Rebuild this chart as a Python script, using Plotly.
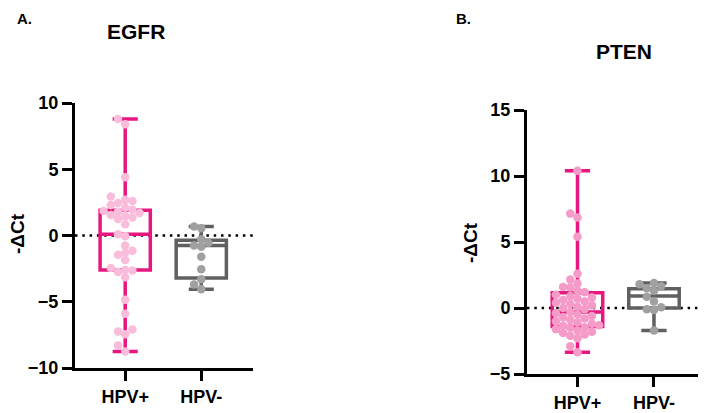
import numpy as np
import plotly.graph_objects as go

# ---------------- data ----------------
categories = ["HPV+", "HPV-"]

egfr_hpv_pos = [8.8, 8.4, 4.4, 2.95, 2.7, 2.6, 2.45, 2.3, 2.1, 1.95, 1.85, 1.8, 1.7, 1.55,
                1.45, 1.35, 1.25, 0.85, 0.1, -0.05, -0.75, -1.15, -1.3, -1.45, -1.85, -2.45,
                -2.6, -2.65, -2.75, -3.15, -4.85, -5.9, -7.1, -7.25, -7.45, -8.3, -8.75]
egfr_hpv_neg = [0.68, 0.55, -0.28, -0.55, -0.75, -0.85, -1.6, -2.55, -3.3, -3.7, -4.05]

pten_hpv_pos = [10.4, 7.15, 6.85, 5.4, 2.6, 2.15, 1.85, 1.6, 1.55, 1.3, 1.2,
                1.0, 0.9, 0.8, 0.7, 0.6, 0.5, 0.4, 0.3, 0.2, 0.1, 0.0, -0.1,
                -0.3,
                -0.4, -0.5, -0.6, -0.7, -0.8, -0.9, -1.0, -1.1, -1.2, -1.3, -1.35,
                -1.45, -1.5, -1.6, -1.7, -1.8, -1.9, -2.0, -2.1, -2.3, -2.9, -3.35]
pten_hpv_neg = [1.9, 1.8, 1.65, 1.5, 1.3, 0.85, 0.5, 0.05, -0.1, -0.15, -1.7]

# box statistics: [min, q1, median, q3, max]
egfr_pos_stats = [-8.75, -2.6, 0.1, 1.9, 8.8]
egfr_neg_stats = [-4.05, -3.2, -0.75, -0.35, 0.68]
pten_pos_stats = [-3.35, -1.4, -0.3, 1.15, 10.4]
pten_neg_stats = [-1.7, 0.0, 0.9, 1.45, 1.9]

# ---------------- style ----------------
OFF = 8                      # page body margin in the browser
W, H = 706 - OFF, 413 - OFF  # figure fills the rest of the window
PINK = "#E8177F"
PINK_PT_A = "#F9BDDB"
PINK_PT_B = "#F49BC8"
GREY = "#606060"
GREY_PT = "#A0A0A0"
FONT = "Liberation Sans, Arial, sans-serif"

# pixel geometry in window pixels
L_X = (75, 253)
L_Y = (103, 368)
R_X = (527, 706)
R_Y = (110, 374)
XR = [-0.66, 1.68]


def px_x(p):
    return (p - OFF) / W


def px_y(p):
    return 1 - (p - OFF) / H


def swarm(values, ppu_x, ppu_y, step=7.2, diam=7.0):
    vals = np.asarray(values, float)
    order = np.argsort(vals)
    placed = []
    offs = np.zeros(len(vals))
    cand = [0]
    for k in range(1, 12):
        cand += [-k, k]
    for i in order:
        y = vals[i] * ppu_y
        for k in cand:
            ok = True
            for c, yp in placed:
                if ((k - c) * step) ** 2 + (y - yp) ** 2 < diam ** 2 - 1e-9:
                    ok = False
                    break
            if ok:
                break
        placed.append((k, y))
        offs[i] = k * step / ppu_x
    return offs


fig = go.Figure()


def add_panel(xa, ya, pos_vals, neg_vals, pos_stats, neg_stats, pt_pink, xpx, ypx, yr):
    ppu_x = (xpx[1] - xpx[0]) / (XR[1] - XR[0])
    ppu_y = (ypx[1] - ypx[0]) / (yr[1] - yr[0])
    for idx, (stats, col) in enumerate([(pos_stats, PINK), (neg_stats, GREY)]):
        fig.add_trace(go.Box(
            x=[idx], lowerfence=[stats[0]], q1=[stats[1]], median=[stats[2]],
            q3=[stats[3]], upperfence=[stats[4]],
            width=0.66, whiskerwidth=0.5, boxpoints=False,
            line=dict(color=col, width=3.5), fillcolor="rgba(0,0,0,0)",
            xaxis=xa, yaxis=ya, showlegend=False, hoverinfo="skip"))
    for idx, (vals, col) in enumerate([(pos_vals, pt_pink), (neg_vals, GREY_PT)]):
        offs = swarm(vals, ppu_x, ppu_y)
        fig.add_trace(go.Scatter(
            x=idx + offs, y=vals, mode="markers",
            marker=dict(color=col, size=8.5, line=dict(width=0)),
            xaxis=xa, yaxis=ya, showlegend=False))


add_panel("x", "y", egfr_hpv_pos, egfr_hpv_neg, egfr_pos_stats, egfr_neg_stats,
          PINK_PT_A, L_X, L_Y, (-10, 10))
add_panel("x2", "y2", pten_hpv_pos, pten_hpv_neg, pten_pos_stats, pten_neg_stats,
          PINK_PT_B, R_X, R_Y, (-5, 15))

tickfont = dict(family=FONT, size=18, color="black", weight="bold")
axis_common = dict(showline=True, linewidth=3, linecolor="black", ticks="outside",
                   ticklen=10, tickwidth=3, tickcolor="black", showgrid=False,
                   zeroline=False, tickfont=tickfont, fixedrange=True, automargin=False)

fig.update_layout(
    width=W, height=H, margin=dict(l=0, r=0, t=0, b=0, pad=0), autosize=False,
    paper_bgcolor="white", plot_bgcolor="rgba(0,0,0,0)",
    xaxis=dict(domain=[px_x(L_X[0]), px_x(L_X[1])], range=XR, tickvals=[0, 1],
               ticktext=categories, anchor="y", **axis_common),
    yaxis=dict(domain=[px_y(L_Y[1]), px_y(L_Y[0])], range=[-10, 10],
               tickvals=[-10, -5, 0, 5, 10], anchor="x", **axis_common),
    xaxis2=dict(domain=[px_x(R_X[0]), min(1.0, px_x(R_X[1]))], range=XR, tickvals=[0, 1],
                ticktext=categories, anchor="y2", **axis_common),
    yaxis2=dict(domain=[px_y(R_Y[1]), px_y(R_Y[0])], range=[-5, 15],
                tickvals=[-5, 0, 5, 10, 15], anchor="x2", **axis_common),
)

for xr, yr in [("x domain", "y"), ("x2 domain", "y2")]:
    fig.add_shape(type="line", xref=xr, yref=yr, x0=0, x1=1, y0=0, y1=0,
                  line=dict(color="black", width=2.5, dash="2.5px,4.8px"), layer="below")


def ann(text, xpx, ypx, size, xanchor="center", angle=0):
    fig.add_annotation(text=text, xref="paper", yref="paper", x=px_x(xpx), y=px_y(ypx),
                       xanchor=xanchor, yanchor="middle", showarrow=False, textangle=angle,
                       borderpad=0,
                       font=dict(family=FONT, size=size, color="black", weight="bold"))


ann("A.", 16, 19, 15, xanchor="left")
ann("EGFR", 135.5, 31.5, 21)
ann("B.", 455, 19, 15, xanchor="left")
ann("PTEN", 624, 52, 21)
ann("-ΔCt", 17, 234, 19, angle=-90)
ann("-ΔCt", 470, 243, 19, angle=-90)

fig.write_html("out.html")
